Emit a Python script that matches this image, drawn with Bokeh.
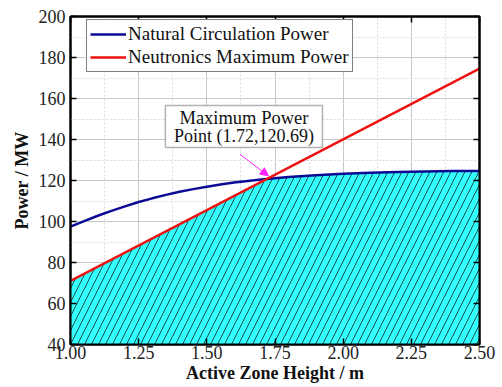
import numpy as np
from bokeh.plotting import figure
from bokeh.models import (LinearAxis, SingleIntervalTicker, NumeralTickFormatter,
                          CustomJSTickFormatter, Legend, LegendItem, Arrow, NormalHead,
                          BoxAnnotation, Label)
from bokeh.embed import file_html
from bokeh.resources import INLINE

# Natural circulation power vs. active zone height
height_nc = [1.0, 1.05, 1.1, 1.15, 1.2, 1.25, 1.3, 1.35, 1.4, 1.45, 1.5, 1.55, 1.6, 1.65,
             1.7, 1.75, 1.8, 1.9, 2.0, 2.1, 2.2, 2.3, 2.4, 2.5]
power_nc = [97.5, 100.2, 102.8, 105.2, 107.4, 109.5, 111.3, 113.0, 114.5, 115.8, 117.0,
            118.1, 119.0, 119.8, 120.5, 121.1, 121.7, 122.6, 123.3, 123.8, 124.2, 124.4,
            124.6, 124.6]

# Neutronics maximum power (straight line)
height_nm = [1.0, 2.5]
power_nm = [71.0, 174.6]

# Maximum power point
max_point = (1.72, 120.69)

FONT = "Liberation Serif"
FS = "18px"

p = figure(width=502, height=387, x_range=(1.0, 2.5), y_range=(40, 200),
           output_backend="svg", toolbar_location=None,
           min_border_left=70, min_border_right=23, min_border_top=16, min_border_bottom=43)

# Allowed operating region: below both curves
xs = np.array(sorted(set(height_nc) | {max_point[0]}))
nc_at = np.interp(xs, height_nc, power_nc)
nm_at = np.interp(xs, height_nm, power_nm)
upper = np.minimum(nc_at, nm_at)
p.varea(x=xs, y1=40, y2=upper, fill_color="#22ffff", fill_alpha=0.92,
        hatch_pattern="/", hatch_color="#103030", hatch_weight=1, hatch_scale=14, hatch_alpha=0.85)

r_nc = p.line(height_nc, power_nc, line_color="#0a0a96", line_width=2.5)
r_nm = p.line(height_nm, power_nm, line_color="#ee1111", line_width=2.5)

# Axes & grid
xt = SingleIntervalTicker(interval=0.25, num_minor_ticks=2)
yt = SingleIntervalTicker(interval=20, num_minor_ticks=2)
p.xaxis.ticker = xt
p.yaxis.ticker = yt
p.xaxis.formatter = NumeralTickFormatter(format="0.00")
for ax in (p.xaxis[0], p.yaxis[0]):
    ax.major_tick_in = 6
    ax.major_tick_out = 0
    ax.minor_tick_in = 0
    ax.minor_tick_out = 0
    ax.axis_line_width = 2
    ax.axis_line_color = "black"
    ax.major_tick_line_width = 1.5
    ax.major_label_text_font = FONT
    ax.major_label_text_font_size = FS
    ax.major_label_text_color = "#222222"
    ax.axis_label_text_font = FONT
    ax.axis_label_text_font_size = FS
    ax.axis_label_text_font_style = "bold"
    ax.axis_label_text_color = "#111111"
p.xaxis.axis_label = "Active Zone Height / m"
p.yaxis.axis_label = "Power / MW"
p.xaxis.major_label_standoff = 1
p.xaxis.axis_label_standoff = 1
p.yaxis.major_label_standoff = 5
p.yaxis.axis_label_standoff = 4

for loc, tk in (("right", yt), ("above", xt)):
    ax = LinearAxis(ticker=tk, major_tick_in=6, major_tick_out=0, minor_tick_in=0,
                    minor_tick_out=0, axis_line_width=2, major_tick_line_width=1.5,
                    formatter=CustomJSTickFormatter(code="return ''"))
    p.add_layout(ax, loc)

p.xgrid.ticker = xt
p.ygrid.ticker = yt
for g in (p.xgrid[0], p.ygrid[0]):
    g.grid_line_color = "#c8c8c8"
    g.grid_line_width = 1
    g.minor_grid_line_color = "#d8d8d8"
    g.minor_grid_line_dash = "2 2"
p.outline_line_color = "black"
p.outline_line_width = 2
p.background_fill_color = "white"

# Legend
legend = Legend(items=[LegendItem(label="Natural Circulation Power", renderers=[r_nc]),
                       LegendItem(label="Neutronics Maximum Power", renderers=[r_nm])],
                location=(16, 272), label_text_font=FONT, label_text_font_size="19px",
                label_text_color="#111111",
                glyph_width=36, glyph_height=20, label_height=20, spacing=1, padding=3,
                margin=0, label_standoff=2, border_line_color="black", border_line_width=1.5,
                background_fill_alpha=1)
p.add_layout(legend)

# Maximum-power-point annotation
p.add_layout(BoxAnnotation(left=1.348, right=1.924, top=156.6, bottom=136.1,
                           fill_color="white", fill_alpha=1, line_color="black",
                           line_width=1.5))
p.add_layout(Label(x=1.636, y=150.3, text="Maximum Power", text_align="center",
                   text_baseline="middle", text_font=FONT, text_font_size="18.5px",
                   text_color="#111111"))
p.add_layout(Label(x=1.636, y=141.6, text=f"Point ({max_point[0]:.2f},{max_point[1]:.2f})",
                   text_align="center", text_baseline="middle", text_font=FONT,
                   text_font_size=FS, text_color="#111111"))
p.add_layout(Arrow(end=NormalHead(size=8, fill_color="#ff22ff", line_color="#ff22ff"),
                   x_start=1.622, y_start=132.7, x_end=max_point[0] + 0.006,
                   y_end=max_point[1] + 1.6, line_color="#ff22ff", line_width=1))

open("out.html", "w").write(file_html(p, INLINE))
